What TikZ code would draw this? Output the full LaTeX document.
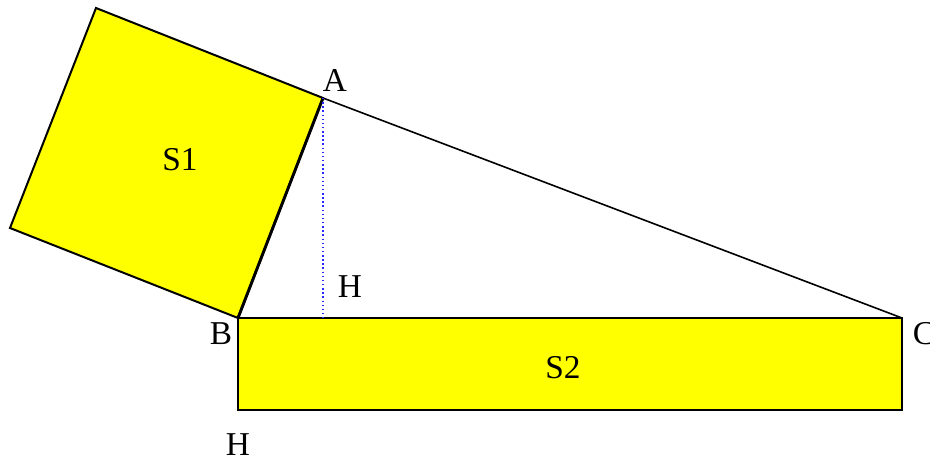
\documentclass[tikz,border=0pt]{standalone}
\usepackage{fontspec}
\setmainfont{Liberation Serif}
\definecolor{yel}{RGB}{255,255,0}
\definecolor{dotblue}{RGB}{40,40,255}
\begin{document}
\begin{tikzpicture}[x=0.75pt,y=-0.75pt,
  lbl/.style={inner sep=0pt,font=\fontsize{25}{28}\selectfont},
  yelbox/.style={draw=black,fill=yel,line width=1.5pt,line join=miter}]
\useasboundingbox (0,0) rectangle (930,460);
\coordinate (A) at (323,98);
\coordinate (B) at (238,318);
\coordinate (C) at (902,318);
\coordinate (P) at (96,8);
\coordinate (Q) at (10,228);
\coordinate (D) at (902,410);
\coordinate (E) at (238,410);
\coordinate (F) at (323,318);
\draw[yelbox] (B) -- (A) -- (P) -- (Q) -- cycle;
\draw[yelbox] (B) -- (C) -- (D) -- (E) -- cycle;
\draw[line width=1.2pt] (A) -- (C);
\draw[line width=2.2pt] (A) -- (B);
\draw[dotblue,dotted,line width=1.1pt] (A) -- (F);
\node[lbl] (lA) at (335,80) {A};
\node[lbl] (lH) at (350,287) {H};
\node[lbl] (lB) at (221,334) {B};
\node[lbl] (lC) at (924,334) {C};
\node[lbl] (lH2) at (238,445) {H};
\node[lbl] (lS1) at (180,160) {S1};
\node[lbl] (lS2) at (563,368) {S2};
\end{tikzpicture}
\end{document}
